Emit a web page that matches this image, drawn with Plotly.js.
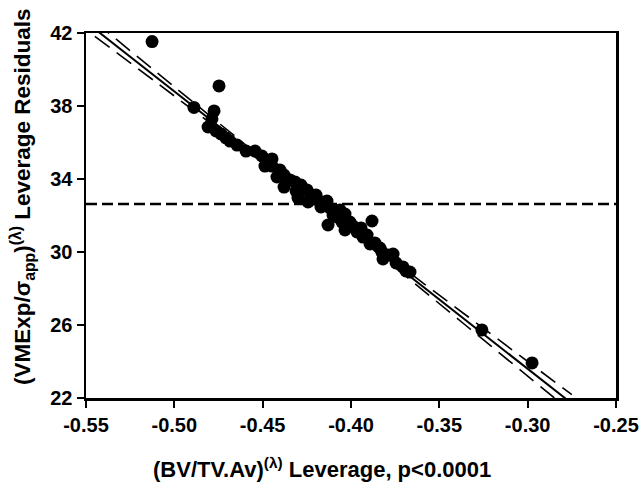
<!DOCTYPE html>
<html>
<head>
<meta charset="utf-8">
<script src="https://cdn.plot.ly/plotly-3.0.1.min.js"></script>
<style>
  html, body { margin: 0; padding: 0; background: #fff; }
  #lev { width: 639px; height: 486px; }
</style>
</head>
<body>
<div id="lev"></div>
<script>
// leverage residuals
var levX = [-0.5126, -0.4747, -0.4889, -0.4775, -0.4787, -0.4809, -0.4764, -0.4736, -0.4708, -0.4685,
            -0.4645, -0.4594, -0.4543, -0.4504, -0.4481, -0.4447, -0.4487, -0.4447, -0.4402, -0.4419,
            -0.4379, -0.4345, -0.4379, -0.4317, -0.4283, -0.4311, -0.4249, -0.4300, -0.4232, -0.4198,
            -0.4243, -0.4204, -0.4164, -0.4136, -0.4170, -0.4119, -0.4102, -0.4062, -0.4079, -0.4130,
            -0.4034, -0.4051, -0.4006, -0.4034, -0.3989, -0.3966, -0.3943, -0.3932, -0.3909, -0.3881,
            -0.3892, -0.3864, -0.3836, -0.3825, -0.3819, -0.3791, -0.3762, -0.3745, -0.3706, -0.3689,
            -0.3666, -0.3259, -0.2975];
var levY = [41.53, 39.10, 37.92, 37.73, 37.29, 36.85, 36.63, 36.47, 36.25, 36.08,
            35.86, 35.53, 35.53, 35.26, 35.04, 35.10, 34.71, 34.71, 34.49, 34.11,
            34.22, 33.95, 33.56, 33.84, 33.67, 33.34, 33.40, 32.96, 33.18, 33.12,
            32.74, 32.90, 32.74, 32.79, 32.47, 32.41, 32.03, 32.30, 31.92, 31.48,
            32.08, 31.64, 31.64, 31.21, 31.42, 31.10, 31.32, 30.82, 30.93, 31.70,
            30.44, 30.49, 30.22, 30.00, 29.62, 29.84, 29.89, 29.40, 29.18, 28.96,
            28.90, 25.73, 23.92];

// fit and confidence band
var fitX   = [-0.545, -0.50, -0.45, -0.42, -0.38, -0.33, -0.275];
var fitY   = [42.22, 38.80, 35.00, 32.72, 29.68, 25.88, 21.70];
var upperY = [42.62, 39.05, 35.12, 32.81, 29.82, 26.18, 22.18];
var lowerY = [41.82, 38.55, 34.88, 32.63, 29.54, 25.58, 21.22];

// mean line
var meanX = [-0.55, -0.25];
var meanY = [32.63, 32.63];

var xTicks = [-0.55, -0.50, -0.45, -0.40, -0.35, -0.30, -0.25];
var xTickText = ['-0.55', '-0.50', '-0.45', '-0.40', '-0.35', '-0.30', '-0.25'];
var yTicks = [22, 26, 30, 34, 38, 42];

var fnt = 'Liberation Sans, Arial, sans-serif';

var trMean = {
  x: meanX, y: meanY, mode: 'lines', type: 'scatter',
  line: {color: '#000', width: 2.5, dash: '11px,5px'},
  hoverinfo: 'none', showlegend: false
};
var trUp = {
  x: fitX, y: upperY, mode: 'lines', type: 'scatter',
  line: {color: '#000', width: 1.6, dash: '18px,9px', shape: 'spline'},
  hoverinfo: 'none', showlegend: false
};
var trLow = {
  x: fitX, y: lowerY, mode: 'lines', type: 'scatter',
  line: {color: '#000', width: 1.6, dash: '18px,9px', shape: 'spline'},
  hoverinfo: 'none', showlegend: false
};
var trFit = {
  x: fitX, y: fitY, mode: 'lines', type: 'scatter',
  line: {color: '#000', width: 2},
  hoverinfo: 'none', showlegend: false
};
var trPts = {
  x: levX, y: levY, mode: 'markers', type: 'scatter',
  marker: {color: '#000', size: 13},
  showlegend: false
};

var layout = {
  width: 639, height: 486,
  margin: {l: 86, r: 23, t: 33, b: 88},
  paper_bgcolor: '#fff', plot_bgcolor: '#fff',
  showlegend: false,
  font: {family: fnt, color: '#000'},
  xaxis: {
    range: [-0.55, -0.25],
    tickvals: xTicks, ticktext: xTickText,
    ticks: 'outside', ticklen: 7, tickwidth: 2, tickcolor: '#000',
    showgrid: false, zeroline: false,
    showline: true, linewidth: 2.5, linecolor: '#000', mirror: true,
    tickfont: {family: fnt, size: 20, color: '#000', weight: 'bold'}
  },
  yaxis: {
    range: [22, 42],
    tickvals: yTicks,
    ticks: 'outside', ticklen: 7, tickwidth: 2, tickcolor: '#000',
    showgrid: false, zeroline: false,
    showline: true, linewidth: 2.5, linecolor: '#000', mirror: true,
    tickfont: {family: fnt, size: 20, color: '#000', weight: 'bold'}
  },
  annotations: [{
    xref: 'paper', yref: 'paper',
    x: 0.445, y: -0.192, xanchor: 'center', yanchor: 'middle',
    text: '<b>(BV/TV.Av)<sup>(λ)</sup> Leverage, p&lt;0.0001</b>',
    font: {family: fnt, size: 22, color: '#000'},
    showarrow: false
  }, {
    xref: 'paper', yref: 'paper',
    x: -0.121, y: 0.553, xanchor: 'center', yanchor: 'middle',
    textangle: -90,
    text: '<b>(VMExp/σ<sub>app</sub>)<sup>(λ)</sup> Leverage Residuals</b>',
    font: {family: fnt, size: 22.5, color: '#000'},
    showarrow: false
  }]
};

Plotly.newPlot('lev', [trMean, trUp, trLow, trFit, trPts], layout,
  {displayModeBar: false, staticPlot: true});
</script>
</body>
</html>
